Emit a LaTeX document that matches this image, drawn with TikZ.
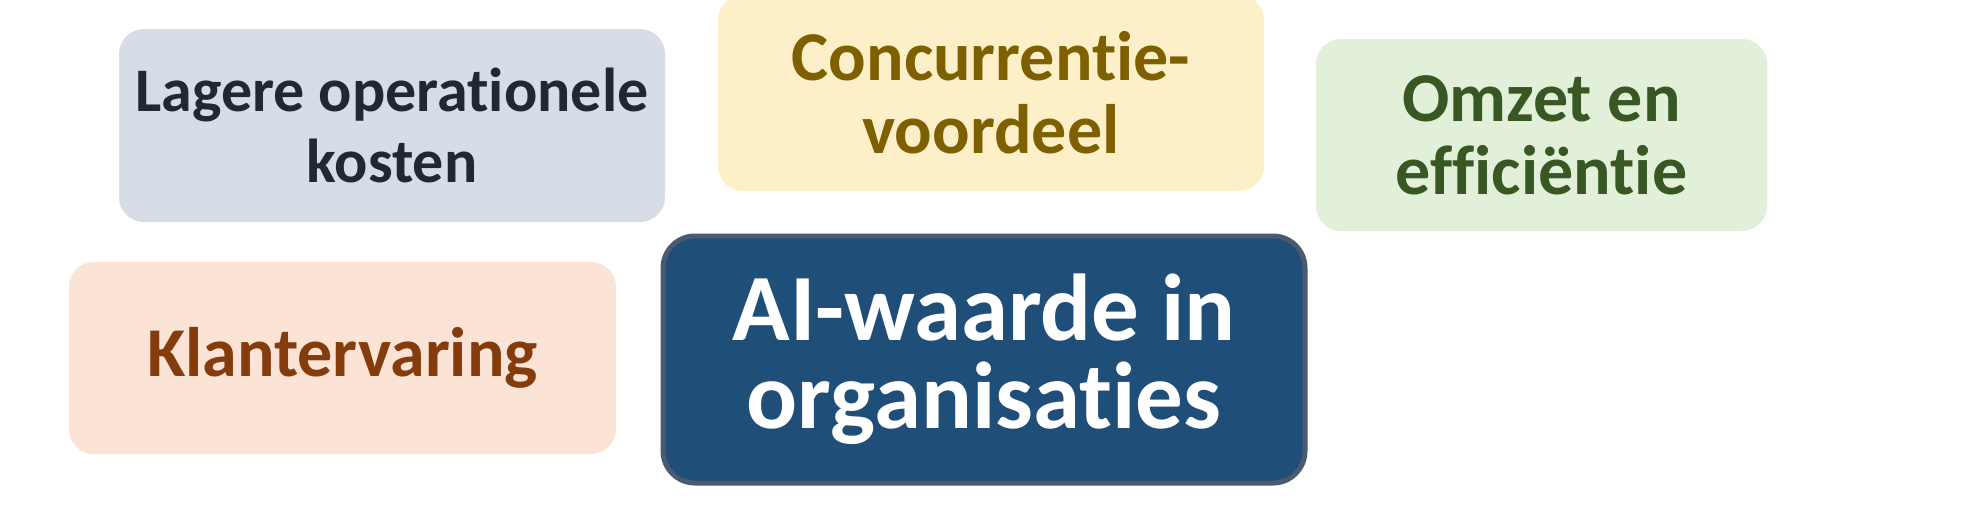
\documentclass[tikz,border=0pt]{standalone}
\usepackage{fontspec}
\setmainfont[Ligatures=NoCommon]{Carlito}
\definecolor{bgA}{HTML}{D7DDE6}
\definecolor{txA}{HTML}{222735}
\definecolor{bgB}{HTML}{FDF0C9}
\definecolor{txB}{HTML}{7F6000}
\definecolor{bgC}{HTML}{E2EFD9}
\definecolor{txC}{HTML}{385723}
\definecolor{bgD}{HTML}{FBE3D6}
\definecolor{txD}{HTML}{843C0C}
\definecolor{bgM}{HTML}{1F4E79}
\definecolor{brM}{HTML}{4A5A70}
\tikzset{
  card/.style={rounded corners=25pt, align=center, inner sep=0pt,
    font=\fontsize{70}{73}\selectfont\bfseries},
  cardsmall/.style={card, font=\fontsize{62}{71}\selectfont\bfseries},
  maincard/.style={rounded corners=32pt, align=center, inner sep=0pt,
    draw=brM, line width=5pt, fill=bgM, text=white,
    font=\fontsize{95}{88}\selectfont\bfseries},
}
\begin{document}
\begin{tikzpicture}[x=1pt,y=-1pt]
\useasboundingbox (0,0) rectangle (1969,528);
\fill[white] (0,0) rectangle (1969,528);
\begin{scope}
\clip (0,0) rectangle (1969,528);
\node[cardsmall, fill=bgA, text=txA, minimum width=546pt, minimum height=193pt] (kosten) at (392,125.5) {Lagere operationele\\kosten};
\node[card, fill=bgB, text=txB, minimum width=546pt, minimum height=196pt] (concurrentie) at (991,93) {Concurrentie-\\voordeel};
\node[card, fill=bgC, text=txC, minimum width=451pt, minimum height=192pt] (omzet) at (1541.5,135) {Omzet en\\efficiëntie};
\node[card, fill=bgD, text=txD, minimum width=547pt, minimum height=192pt] (klant) at (342.5,358) {Klantervaring};
\node[maincard, minimum width=642pt, minimum height=247pt] (ai) at (984,359.5) {AI-waarde in\\organisaties};
\end{scope}
\end{tikzpicture}
\end{document}
